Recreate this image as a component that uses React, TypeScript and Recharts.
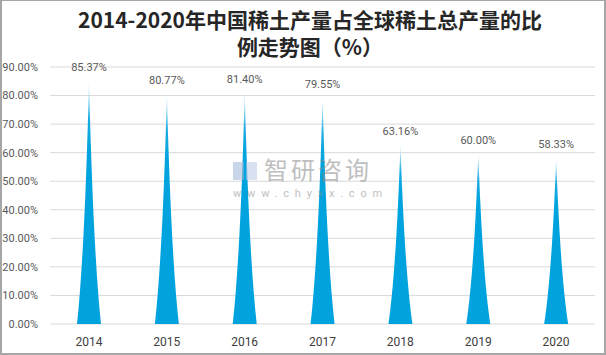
import React from 'react';
import { BarChart, Bar, XAxis, YAxis, CartesianGrid, LabelList } from 'recharts';

const years = ['2014', '2015', '2016', '2017', '2018', '2019', '2020'];
const shares = [85.37, 80.77, 81.4, 79.55, 63.16, 60.0, 58.33];
const yTicks = [0, 10, 20, 30, 40, 50, 60, 70, 80, 90];

const titleLine1 = '2014-2020年中国稀土产量占全球稀土总产量的比';
const titleLine2 = '例走势图（%）';

const data = years.map((year, i) => ({ year, share: shares[i] }));

const fmt = (v: number) => `${Number(v).toFixed(2)}%`;

const Spike = (props: any) => {
  const { x, y, width, height } = props;
  if (!height || height <= 0) return null;
  const cx = x + width / 2;
  const b = y + height;
  const hw = width / 2;
  const d = `M${x},${b} Q${cx - hw * 0.35},${b - height * 0.3} ${cx},${y} Q${cx + hw * 0.35},${b - height * 0.3} ${x + width},${b} Z`;
  return <path d={d} fill="url(#spikeGrad)" />;
};

const FONT = 'Roboto, "Noto Sans", sans-serif';

export default function App() {
  return (
    <div style={{ position: 'fixed', left: 0, top: 0, width: 606, height: 355, background: '#fff', overflow: 'hidden' }}>
      <div
        style={{
          position: 'absolute',
          left: 0,
          top: 6,
          width: 620,
          textAlign: 'center',
          fontFamily: '"Noto Sans CJK SC", sans-serif',
          fontWeight: 700,
          fontSize: 21,
          lineHeight: '27px',
          color: '#262626',
        }}
      >
        <div>{titleLine1}</div>
        <div>{titleLine2}</div>
      </div>
      <div style={{ position: 'absolute', left: 0, top: 0 }}>
        <BarChart width={606} height={355} data={data} margin={{ top: 67, right: 11, left: 0, bottom: 11 }}>
          <defs>
            <linearGradient id="spikeGrad" x1="0" y1="0" x2="0" y2="1">
              <stop offset="0" stopColor="#F2FAFE" />
              <stop offset="0.16" stopColor="#1AABE2" />
              <stop offset="0.3" stopColor="#00A3DE" />
              <stop offset="1" stopColor="#00A3DE" />
            </linearGradient>
          </defs>
          <CartesianGrid horizontal vertical={false} stroke="#D9D9D9" />
          <XAxis
            dataKey="year"
            height={20}
            axisLine={false}
            tickLine={false}
            tickMargin={7}
            tick={{ fill: '#404040', fontSize: 12, fontFamily: FONT }}
            interval={0}
          />
          <YAxis
            width={50}
            domain={[0, 90]}
            ticks={yTicks}
            interval={0}
            axisLine={false}
            tickLine={false}
            tickMargin={6}
            tickFormatter={fmt}
            tick={{ fill: '#595959', fontSize: 11, fontFamily: FONT }}
          />
          <Bar dataKey="share" barSize={24} shape={Spike} isAnimationActive={false}>
            <LabelList
              dataKey="share"
              position="top"
              offset={9}
              formatter={fmt}
              style={{ fill: '#595959', fontSize: 11, fontFamily: FONT }}
            />
          </Bar>
        </BarChart>
      </div>
      <div style={{ position: 'absolute', left: 233, top: 158, width: 150, pointerEvents: 'none', opacity: 0.55 }}>
        <div style={{ position: 'absolute', left: 0, top: 4, width: 11, height: 18, background: '#9DB3D6' }} />
        <div style={{ position: 'absolute', left: 13, top: 4, width: 11, height: 18, background: '#B9C9E3' }} />
        <div
          style={{
            position: 'absolute',
            left: 31,
            top: -1,
            fontFamily: '"Noto Sans CJK SC", sans-serif',
            fontSize: 24,
            lineHeight: '24px',
            letterSpacing: 3,
            color: '#8C8C8C',
            whiteSpace: 'nowrap',
          }}
        >
          智研咨询
        </div>
        <div
          style={{
            position: 'absolute',
            left: 0,
            top: 30,
            fontFamily: FONT,
            fontSize: 11,
            lineHeight: '12px',
            letterSpacing: 5.8,
            color: '#8C8C8C',
            whiteSpace: 'nowrap',
          }}
        >
          www.chyxx.com
        </div>
      </div>
      <div
        style={{
          position: 'absolute',
          inset: 0,
          borderTop: '1px solid #A6A6A6',
          borderLeft: '2px solid #A6A6A6',
          borderRight: '2px solid #A6A6A6',
          borderBottom: '2px solid #A6A6A6',
          pointerEvents: 'none',
        }}
      />
    </div>
  );
}
